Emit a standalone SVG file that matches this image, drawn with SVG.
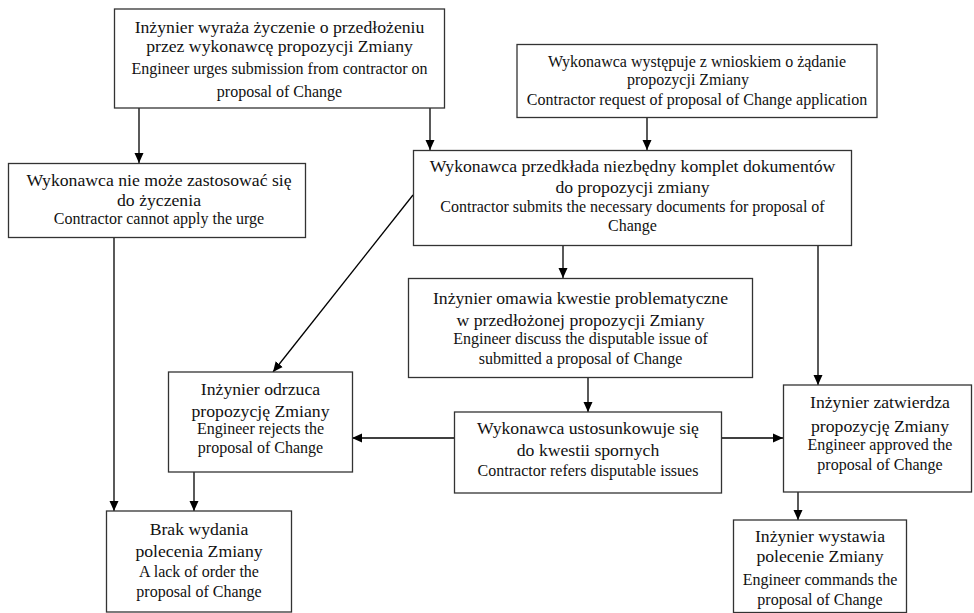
<svg xmlns="http://www.w3.org/2000/svg" width="974" height="613" viewBox="0 0 974 613">
<defs>
<marker id="ah" markerUnits="userSpaceOnUse" markerWidth="10" markerHeight="10" viewBox="0 0 10 10" refX="10" refY="5" orient="auto">
<path d="M0,0.5 L10,5 L0,9.5 z" fill="#000"/>
</marker>
</defs>
<style>
.box{fill:#fff;stroke:#333;stroke-width:1.3}
.pl{font-family:"Liberation Serif","Times New Roman",serif;font-size:17.7px;fill:#111;text-anchor:middle}
.en{font-family:"Liberation Serif","Times New Roman",serif;font-size:16px;fill:#111;text-anchor:middle}
.c{fill:none;stroke:#000;stroke-width:1.3;marker-end:url(#ah)}
</style>
<rect width="974" height="613" fill="#fff"/>
<g id="connectors">
<line class="c" x1="139" y1="108" x2="139" y2="163"/>
<line class="c" x1="430" y1="108" x2="430" y2="150"/>
<line class="c" x1="647" y1="118" x2="647" y2="150"/>
<line class="c" x1="114" y1="238" x2="114" y2="511"/>
<line class="c" x1="413" y1="195" x2="273" y2="372"/>
<line class="c" x1="563" y1="246" x2="563" y2="278"/>
<line class="c" x1="818" y1="246" x2="818" y2="385"/>
<line class="c" x1="588" y1="378" x2="588" y2="412"/>
<line class="c" x1="454" y1="438" x2="352" y2="438"/>
<line class="c" x1="721" y1="438" x2="783" y2="438"/>
<line class="c" x1="194" y1="472" x2="194" y2="511"/>
<line class="c" x1="798" y1="492" x2="798" y2="520"/>
</g>
<g id="n1">
<rect class="box" x="114.5" y="9" width="330" height="99"/>
<text class="pl" x="279.5" y="33">Inżynier wyraża życzenie o przedłożeniu</text>
<text class="pl" x="279.5" y="52">przez wykonawcę propozycji Zmiany</text>
<text class="en" x="279.5" y="74">Engineer urges submission from contractor on</text>
<text class="en" x="279.5" y="97">proposal of Change</text>
</g>
<g id="n2">
<rect class="box" x="517" y="44.5" width="360" height="73"/>
<text class="en" x="697" y="67">Wykonawca występuje z wnioskiem o żądanie</text>
<text class="en" x="688" y="85">propozycji Zmiany</text>
<text class="en" x="697" y="105">Contractor request of proposal of Change application</text>
</g>
<g id="n3">
<rect class="box" x="8.5" y="163.5" width="297" height="74"/>
<text class="pl" x="159" y="186">Wykonawca nie może zastosować się</text>
<text class="pl" x="159" y="206">do życzenia</text>
<text class="en" x="159" y="224">Contractor cannot apply the urge</text>
</g>
<g id="n4">
<rect class="box" x="413.5" y="150.5" width="438" height="95"/>
<text class="pl" x="632.5" y="172">Wykonawca przedkłada niezbędny komplet dokumentów</text>
<text class="pl" x="632.5" y="193">do propozycji zmiany</text>
<text class="en" x="632.5" y="212">Contractor submits the necessary documents for proposal of</text>
<text class="en" x="632.5" y="231">Change</text>
</g>
<g id="n5">
<rect class="box" x="408.5" y="278.5" width="344" height="99"/>
<text class="pl" x="580.5" y="304">Inżynier omawia kwestie problematyczne</text>
<text class="pl" x="580.5" y="326">w przedłożonej propozycji Zmiany</text>
<text class="en" x="580.5" y="344">Engineer discuss the disputable issue of</text>
<text class="en" x="580.5" y="364">submitted a proposal of Change</text>
</g>
<g id="n6">
<rect class="box" x="168.5" y="372" width="184" height="100"/>
<text class="pl" x="260.5" y="395">Inżynier odrzuca</text>
<text class="pl" x="260.5" y="417">propozycję Zmiany</text>
<text class="en" x="260.5" y="434">Engineer rejects the</text>
<text class="en" x="260.5" y="453">proposal of Change</text>
</g>
<g id="n7">
<rect class="box" x="454.5" y="412" width="267" height="81"/>
<text class="pl" x="588" y="434">Wykonawca ustosunkowuje się</text>
<text class="pl" x="588" y="456">do kwestii spornych</text>
<text class="en" x="588" y="476">Contractor refers disputable issues</text>
</g>
<g id="n8">
<rect class="box" x="783.5" y="385" width="188" height="107"/>
<text class="pl" x="880" y="408">Inżynier zatwierdza</text>
<text class="pl" x="880" y="432">propozycję Zmiany</text>
<text class="en" x="880" y="450">Engineer approved the</text>
<text class="en" x="880" y="470">proposal of Change</text>
</g>
<g id="n9">
<rect class="box" x="106.5" y="511" width="185" height="101"/>
<text class="pl" x="199" y="535">Brak wydania</text>
<text class="pl" x="199" y="557">polecenia Zmiany</text>
<text class="en" x="199" y="577">A lack of order the</text>
<text class="en" x="199" y="597">proposal of Change</text>
</g>
<g id="n10">
<rect class="box" x="733.5" y="520" width="173" height="92.5"/>
<text class="pl" x="820" y="542">Inżynier wystawia</text>
<text class="pl" x="820" y="562">polecenie Zmiany</text>
<text class="en" x="820" y="585">Engineer commands the</text>
<text class="en" x="820" y="605">proposal of Change</text>
</g>
</svg>
